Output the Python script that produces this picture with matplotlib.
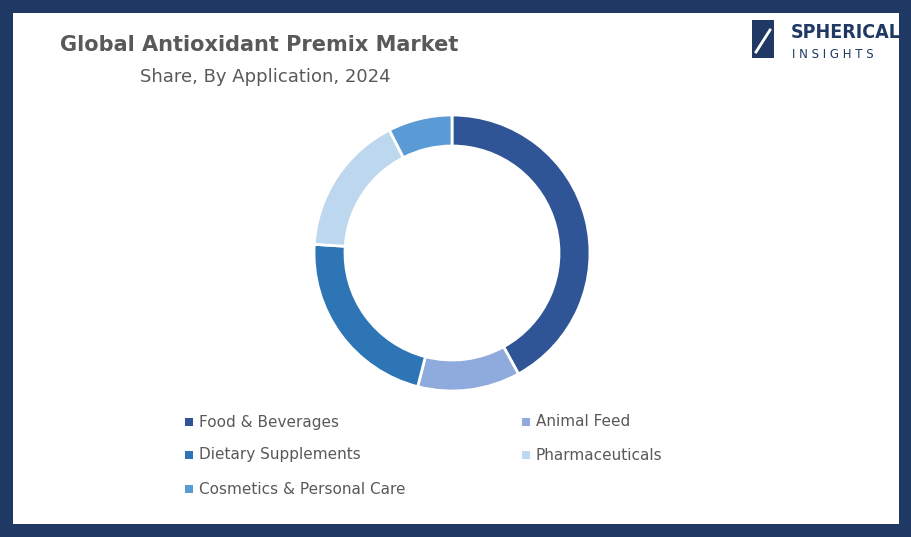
import matplotlib
matplotlib.use("Agg")
import matplotlib.pyplot as plt
from matplotlib.patches import Rectangle

categories = ["Food & Beverages", "Animal Feed", "Dietary Supplements", "Pharmaceuticals", "Cosmetics & Personal Care"]
values = [42, 12, 22, 16.5, 7.5]
colors = ["#2f5597", "#8faadc", "#2e75b6", "#bdd7ee", "#5b9bd5"]

W, H = 912, 537
fig = plt.figure(figsize=(W/100, H/100), dpi=100)
fig.patch.set_facecolor("#1f3864")
bg = fig.add_axes([0, 0, 1, 1]); bg.set_xlim(0, W); bg.set_ylim(H, 0); bg.axis("off")
bg.add_patch(Rectangle((13, 13), W-26, H-26, facecolor="white", edgecolor="none"))

fig.text(60/W, 1-45/H, "Global Antioxidant Premix Market", fontsize=15, fontweight="bold", color="#595959", va="center", ha="left")
fig.text(265/W, 1-77/H, "Share, By Application, 2024", fontsize=13, color="#595959", va="center", ha="center")

# logo
bg.add_patch(Rectangle((752, 20), 22, 38, facecolor="#1f3864"))
bg.plot([756, 770], [52, 30], color="white", lw=2)
fig.text(791/W, 1-32/H, "SPHERICAL", fontsize=14, fontweight="bold", color="#1f3864", va="center", ha="left", fontstretch="condensed", family="Liberation Sans Narrow")
fig.text(792/W, 1-55/H, "I N S I G H T S", fontsize=8.5, color="#1f3864", va="center", ha="left")

r = 138
ax = fig.add_axes([(452-r)/W, 1-(253+r)/H, 2*r/W, 2*r/H])
ax.pie(values, colors=colors, startangle=90, counterclock=False, radius=1,
       wedgeprops=dict(width=31/138, edgecolor="white", linewidth=2))
ax.set_xlim(-1, 1); ax.set_ylim(-1, 1)
ax.set_aspect("equal")

pos = [(185, 422), (522, 422), (185, 455), (522, 455), (185, 489)]
for (x, y), c, col in zip(pos, categories, colors):
    bg.add_patch(Rectangle((x, y-4), 8, 8, facecolor=col))
    bg.text(x+14, y, c, fontsize=11, color="#595959", va="center", ha="left")

fig.savefig("out.png", dpi=100)
